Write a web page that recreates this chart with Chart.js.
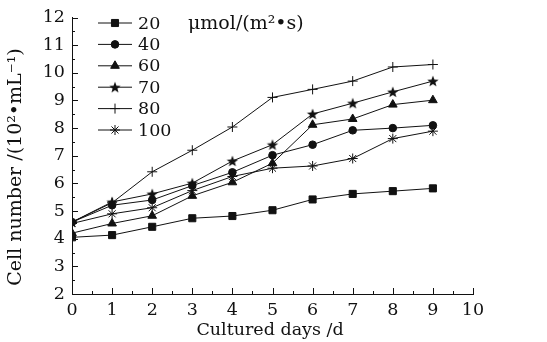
<!DOCTYPE html>
<html>
<head>
<meta charset="utf-8">
<script src="https://cdn.jsdelivr.net/npm/chart.js@4.4.1/dist/chart.umd.min.js"></script>
<style>
  html, body { margin: 0; padding: 0; background: #fff; }
  #wrap { width: 547px; height: 342px; }
</style>
</head>
<body>
<div id="wrap"><canvas id="cells" width="547" height="342"></canvas></div>
<script>
// culture days and cell counts (10^2 / mL) for each light intensity
const days = [0, 1, 2, 3, 4, 5, 6, 7, 8, 9];
const intensities = ['20', '40', '60', '70', '80', '100'];
const cells20 = [4.05, 4.13, 4.43, 4.74, 4.82, 5.03, 5.42, 5.62, 5.72, 5.82];
const cells40 = [4.6, 5.21, 5.40, 5.92, 6.40, 7.02, 7.40, 7.92, 8.00, 8.10];
const cells60 = [4.2, 4.55, 4.83, 5.55, 6.04, 6.73, 8.12, 8.33, 8.85, 9.01];
const cells70 = [4.6, 5.33, 5.62, 6.01, 6.81, 7.40, 8.51, 8.90, 9.31, 9.70];
const cells80 = [4.6, 5.30, 6.42, 7.20, 8.04, 9.11, 9.40, 9.70, 10.21, 10.30];
const cells100 = [4.55, 4.90, 5.12, 5.74, 6.25, 6.55, 6.63, 6.90, 7.62, 7.89];
const xTicks = [0, 1, 2, 3, 4, 5, 6, 7, 8, 9, 10];
const yTicks = [2, 3, 4, 5, 6, 7, 8, 9, 10, 11, 12];

const FONT = 'DejaVu Serif';
const INK = '#111';

// filled five-point star, used as a point style
function makeStar(r) {
  const c = document.createElement('canvas');
  const s = Math.ceil(r * 2 + 2);
  c.width = s; c.height = s;
  const g = c.getContext('2d');
  g.translate(s / 2, s / 2 + 0.5);
  g.beginPath();
  for (let i = 0; i < 10; i++) {
    const rr = i % 2 === 0 ? r : r * 0.42;
    const a = -Math.PI / 2 + i * Math.PI / 5;
    g.lineTo(rr * Math.cos(a), rr * Math.sin(a));
  }
  g.closePath();
  g.fillStyle = INK;
  g.fill();
  return c;
}
const star = makeStar(6);

const series = [cells20, cells40, cells60, cells70, cells80, cells100];
const styles = [
  { pointStyle: 'rect', pointRadius: 5 },
  { pointStyle: 'circle', pointRadius: 3.8 },
  { pointStyle: 'triangle', pointRadius: 5 },
  { pointStyle: star, pointRadius: 6 },
  { pointStyle: 'cross', pointRadius: 5 },
  { pointStyle: 'star', pointRadius: 5 }
];

const datasets = series.map((vals, i) => ({
  label: intensities[i],
  data: vals.map((v, j) => ({ x: days[j], y: v })),
  borderColor: INK,
  backgroundColor: INK,
  pointBorderColor: INK,
  pointBackgroundColor: INK,
  borderWidth: 1,
  pointBorderWidth: 1,
  pointStyle: styles[i].pointStyle,
  pointRadius: styles[i].pointRadius,
  tension: 0
}));

// inward tick marks, axis titles and legend block
const decor = {
  id: 'decor',
  afterDraw(chart) {
    const ctx = chart.ctx;
    const xs = chart.scales.x, ys = chart.scales.y;
    const a = chart.chartArea;
    ctx.save();
    ctx.strokeStyle = INK;
    ctx.lineWidth = 1;
    ctx.beginPath();
    for (let v = 0; v <= 10; v += 0.5) {
      const px = Math.round(xs.getPixelForValue(v)) + 0.5;
      const len = Number.isInteger(v) ? 6 : 3;
      ctx.moveTo(px, a.bottom);
      ctx.lineTo(px, a.bottom - len);
    }
    for (let v = 2; v <= 12; v += 0.5) {
      const py = Math.round(ys.getPixelForValue(v)) + 0.5;
      const len = Number.isInteger(v) ? 6 : 3;
      ctx.moveTo(a.left, py);
      ctx.lineTo(a.left + len, py);
    }
    ctx.stroke();

    ctx.fillStyle = INK;
    ctx.textBaseline = 'middle';
    ctx.textAlign = 'center';

    // axis titles
    ctx.font = '17.5px "' + FONT + '"';
    ctx.fillText('Cultured days /d', 270, 330);
    ctx.save();
    ctx.translate(16, 167);
    ctx.rotate(-Math.PI / 2);
    ctx.font = '19px "' + FONT + '"';
    ctx.fillText('Cell number /(10\u00b2\u2022mL\u207b\u00b9)', 0, 0);
    ctx.restore();

    // legend
    ctx.textAlign = 'left';
    ctx.font = '17.5px "' + FONT + '"';
    chart.data.datasets.forEach((ds, i) => {
      const y = 23 + i * 21.4;
      ctx.beginPath();
      ctx.moveTo(98, y);
      ctx.lineTo(132, y);
      ctx.stroke();
      Chart.helpers.drawPoint(ctx, {
        pointStyle: ds.pointStyle,
        radius: ds.pointRadius,
        rotation: 0,
        borderWidth: 1
      }, 115, y);
      ctx.fillText(ds.label, 138, y + 1);
    });
    ctx.font = '19px "' + FONT + '"';
    ctx.fillText('\u03bcmol/(m\u00b2\u2022s)', 188, 24);
    ctx.restore();
  }
};

new Chart(document.getElementById('cells'), {
  type: 'line',
  data: { datasets },
  options: {
    responsive: false,
    animation: false,
    layout: { padding: { top: 14, right: 74, left: 0, bottom: 0 } },
    plugins: { legend: { display: false }, tooltip: { enabled: false } },
    scales: {
      x: {
        type: 'linear',
        min: xTicks[0],
        max: xTicks[xTicks.length - 1],
        afterFit: (s) => { s.height = 48; },
        afterBuildTicks: (s) => { s.ticks = xTicks.map(v => ({ value: v })); },
        grid: { display: false, drawTicks: false },
        border: { display: true, color: INK, width: 1 },
        ticks: { color: INK, padding: 6, maxRotation: 0, font: { family: FONT, size: 17.5 } }
      },
      y: {
        type: 'linear',
        min: yTicks[0],
        max: yTicks[yTicks.length - 1],
        afterFit: (s) => { s.width = 72; },
        afterBuildTicks: (s) => { s.ticks = yTicks.map(v => ({ value: v })); },
        grid: { display: false, drawTicks: false },
        border: { display: true, color: INK, width: 1 },
        ticks: { color: INK, padding: 7, font: { family: FONT, size: 17.5 } }
      }
    }
  },
  plugins: [decor]
});
</script>
</body>
</html>
